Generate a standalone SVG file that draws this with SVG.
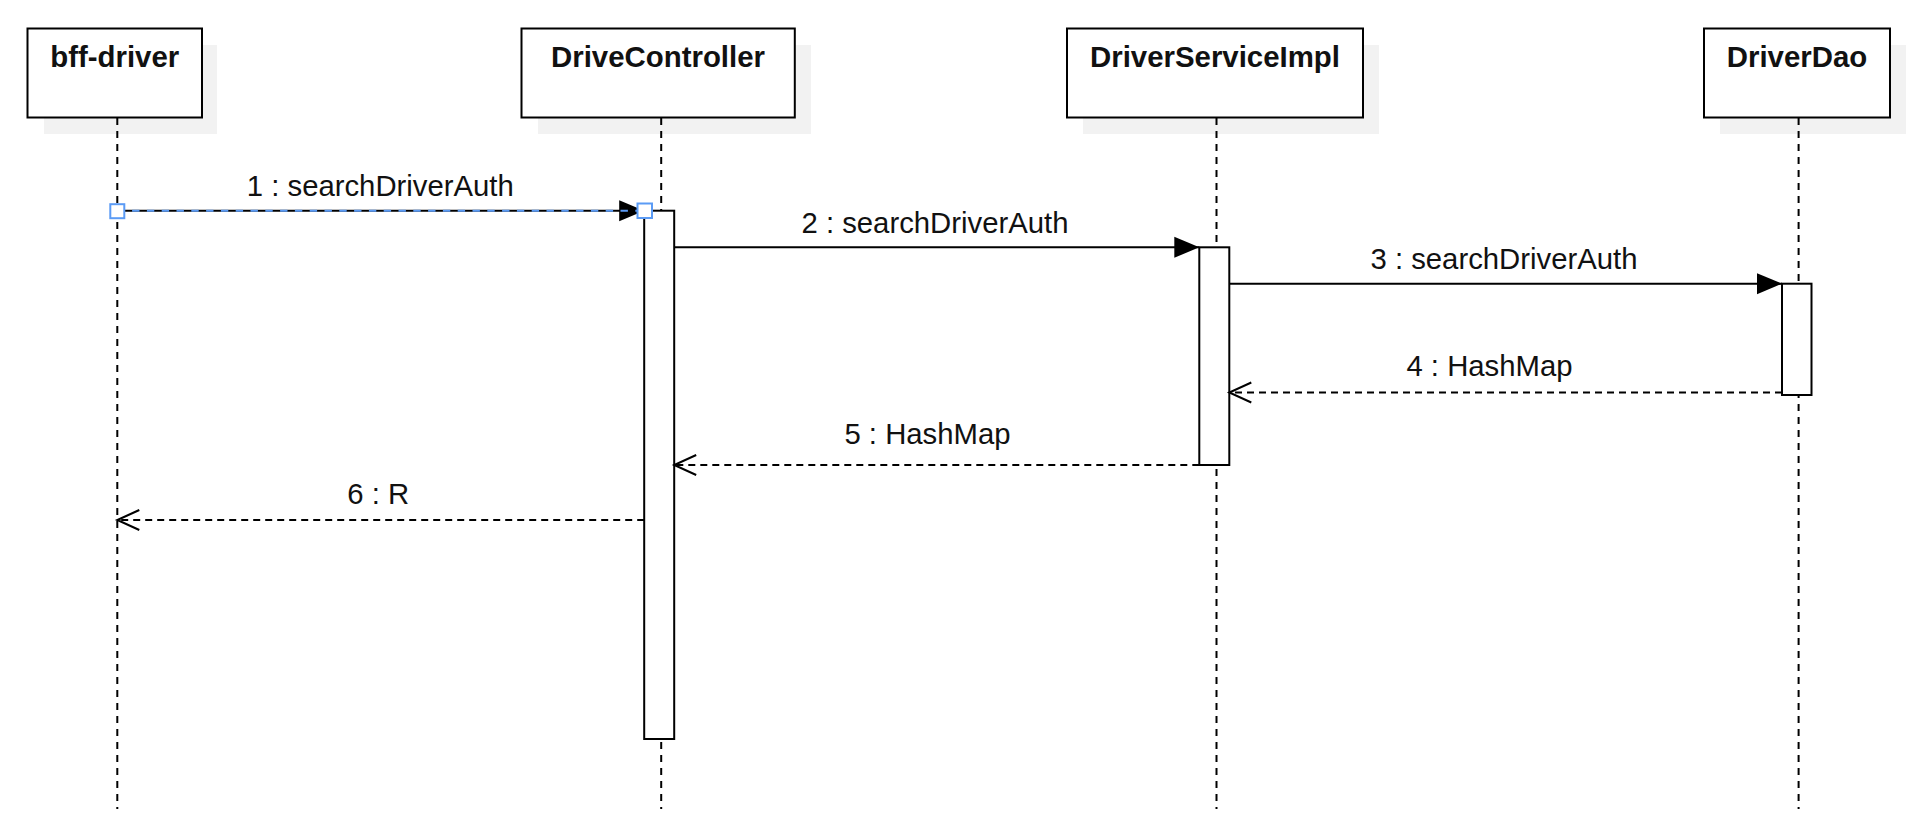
<svg xmlns="http://www.w3.org/2000/svg" width="1929" height="832" viewBox="0 0 1929 832">
<style>
.shadow{fill:#f2f2f2;stroke:none}
.box{fill:#fff;stroke:#000;stroke-width:2}
.life{stroke:#000;stroke-width:2;stroke-dasharray:7 6;fill:none}
.act{fill:#fff;stroke:#000;stroke-width:2}
.title{font-family:"Liberation Sans",Arial,sans-serif;font-weight:bold;font-size:29.4px;text-anchor:middle;fill:#111}
.lbl{font-family:"Liberation Sans",Arial,sans-serif;font-size:29.3px;text-anchor:middle;fill:#111}
.call{stroke:#000;stroke-width:2;fill:none;marker-end:url(#block)}
.ret{stroke:#000;stroke-width:2;fill:none;stroke-dasharray:7 5;marker-end:url(#open)}
.sel{stroke:#5b9bf5;stroke-width:2;stroke-dasharray:7.4 7.4;fill:none}
.handle{fill:#fff;stroke:#5b9bf5;stroke-width:2}
</style>
<defs>
<marker id="block" markerUnits="userSpaceOnUse" markerWidth="30" markerHeight="26" refX="25" refY="10.5" orient="auto" overflow="visible"><path d="M0,0 L25,10.5 L0,21 Z" fill="#000" stroke="none"/></marker>
<marker id="open" markerUnits="userSpaceOnUse" markerWidth="30" markerHeight="26" refX="22" refY="10" orient="auto" overflow="visible"><path d="M0,0 L22,10 L0,20" fill="none" stroke="#000" stroke-width="2" stroke-dasharray="none"/></marker>
</defs>
<rect width="1929" height="832" fill="#fff"/>

<g id="bff-driver">
<rect class="shadow" x="44" y="45" width="173" height="89"/>
<rect class="box" x="27.5" y="28.5" width="174.5" height="89"/>
<text class="title" x="114.7" y="67.3">bff-driver</text>
<line class="life" x1="117.3" y1="118" x2="117.3" y2="809"/>
</g>

<g id="DriveController">
<rect class="shadow" x="538" y="45" width="273" height="89"/>
<rect class="box" x="521.5" y="28.5" width="273.3" height="89"/>
<text class="title" x="658" y="67.3">DriveController</text>
<line class="life" x1="661.2" y1="118" x2="661.2" y2="809"/>
<rect class="act" x="644.2" y="210.7" width="30" height="528.3"/>
</g>

<g id="DriverServiceImpl">
<rect class="shadow" x="1083" y="45" width="296" height="89"/>
<rect class="box" x="1067" y="28.5" width="296" height="89"/>
<text class="title" x="1215" y="67.3">DriverServiceImpl</text>
<line class="life" x1="1216.5" y1="118" x2="1216.5" y2="809"/>
<rect class="act" x="1199.3" y="247.3" width="30" height="217.7"/>
</g>

<g id="DriverDao">
<rect class="shadow" x="1720" y="45" width="186" height="89"/>
<rect class="box" x="1704" y="28.5" width="186" height="89"/>
<text class="title" x="1797" y="67.3">DriverDao</text>
<line class="life" x1="1798.6" y1="118" x2="1798.6" y2="809"/>
<rect class="act" x="1782" y="283.7" width="29.5" height="111.3"/>
</g>

<g id="connectors">
<line class="call" x1="117.3" y1="210.7" x2="644.2" y2="210.7"/>
<line class="sel" x1="117.3" y1="210.7" x2="644.2" y2="210.7"/>
<rect class="handle" x="110.3" y="204.2" width="14" height="14"/>
<rect class="handle" x="637.5" y="203.5" width="14.5" height="14.5"/>
<text class="lbl" x="380.3" y="196">1 : searchDriverAuth</text>

<line class="call" x1="674.2" y1="247.3" x2="1199.3" y2="247.3"/>
<text class="lbl" x="935" y="232.5">2 : searchDriverAuth</text>

<line class="call" x1="1229.3" y1="283.7" x2="1782" y2="283.7"/>
<text class="lbl" x="1504" y="268.5">3 : searchDriverAuth</text>

<line class="ret" x1="1782" y1="392.5" x2="1229.3" y2="392.5"/>
<text class="lbl" x="1489.5" y="376">4 : HashMap</text>

<line class="ret" x1="1199.3" y1="465" x2="674.2" y2="465"/>
<text class="lbl" x="927.5" y="443.5">5 : HashMap</text>

<line class="ret" x1="644.2" y1="520" x2="117.3" y2="520"/>
<text class="lbl" x="378.3" y="503.5">6 : R</text>
</g>
</svg>
